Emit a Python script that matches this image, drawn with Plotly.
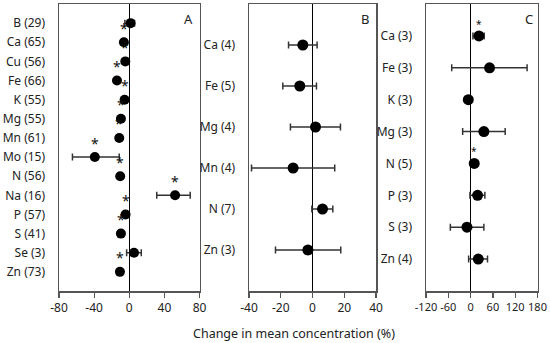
import plotly.graph_objects as go

# Panel A
a_cats = ["B (29)", "Ca (65)", "Cu (56)", "Fe (66)", "K (55)", "Mg (55)", "Mn (61)",
          "Mo (15)", "N (56)", "Na (16)", "P (57)", "S (41)", "Se (3)", "Zn (73)"]
a_vals = [1.5, -6.1, -4.5, -14.0, -5.3, -9.5, -11.4, -39.2, -10.3, 52.2, -4.2, -9.5, 5.4, -10.6]
a_lo = [-5.0, -8.0, -6.5, -16.0, -7.3, -11.5, -13.4, -64.7, -12.3, 31.3, -6.2, -11.5, -3.0, -12.6]
a_hi = [6.0, -4.1, -2.5, -12.0, -3.3, -7.5, -9.4, -11.4, -8.3, 69.4, -2.2, -7.5, 13.7, -8.6]
a_sig = [False, True, True, True, True, True, True, True, True, True, True, True, False, True]

# Panel B
b_cats = ["Ca (4)", "Fe (5)", "Mg (4)", "Mn (4)", "N (7)", "Zn (3)"]
b_vals = [-6.1, -8.0, 1.9, -12.2, 6.3, -2.9]
b_lo = [-15.1, -18.7, -13.9, -38.4, -0.4, -23.3]
b_hi = [2.9, 2.5, 17.6, 14.0, 12.8, 17.8]

# Panel C
c_cats = ["Ca (3)", "Fe (3)", "K (3)", "Mg (3)", "N (5)", "P (3)", "S (3)", "Zn (4)"]
c_vals = [22.4, 51.0, -6.2, 35.7, 9.8, 18.8, -9.8, 20.6]
c_lo = [6.3, -50.8, -10.0, -21.4, 5.0, -1.8, -54.5, -5.3]
c_hi = [36.6, 152.0, -2.0, 93.0, 14.0, 38.4, 35.7, 45.5]
c_sig = [True, False, False, False, True, False, False, False]

panel_labels = ["A", "B", "C"]
x_ranges = [[-80, 80], [-40, 40], [-120, 180]]
x_ticks = [[-80, -40, 0, 40, 80], [-40, -20, 0, 20, 40], [-120, -60, 0, 60, 120, 180]]
x_title = "Change in mean concentration (%)"

W, H = 550, 343
FONT = "Noto Sans"
BOX = "#555555"

fig = go.Figure()

panels = [
    (a_cats, a_vals, a_lo, a_hi, a_sig, 10, 14, 12, 14),
    (b_cats, b_vals, b_lo, b_hi, [False] * len(b_cats), 11, 14, 12, 12),
    (c_cats, c_vals, c_lo, c_hi, c_sig, 11, 10, 11, 12),
]
x_px = [(59, 199.5), (249, 376), (426, 537.5)]
y_top, y_bot = 4, 291

for i, (cats, vals, lo, hi, sig, msize, asz, tsz, ysh) in enumerate(panels):
    n = len(cats)
    ys = list(range(n))
    xa = "x" if i == 0 else f"x{i+1}"
    ya = "y" if i == 0 else f"y{i+1}"
    fig.add_trace(go.Scatter(
        x=vals, y=ys, mode="markers", xaxis=xa, yaxis=ya,
        marker=dict(color="black", size=msize),
        error_x=dict(type="data", symmetric=False,
                     array=[h - v for h, v in zip(hi, vals)],
                     arrayminus=[v - l for v, l in zip(vals, lo)],
                     color="#333333", thickness=1.5, width=3.5),
        showlegend=False, hoverinfo="skip"))
    sx = [v for v, s in zip(vals, sig) if s]
    sy = [y for y, s in zip(ys, sig) if s]
    for xv, yv in zip(sx, sy):
        fig.add_annotation(x=xv, y=yv, xref=xa, yref=ya, text="*", showarrow=False,
                           font=dict(family=FONT, size=asz, color="#111111"),
                           xanchor="center", yanchor="middle", yshift=ysh)

    x0, x1 = x_px[i]
    axis_x = dict(domain=[x0 / W, x1 / W], range=x_ranges[i], tickvals=x_ticks[i],
                  ticktext=[str(t) for t in x_ticks[i]], tickangle=0,
                  showline=True, linecolor=BOX, linewidth=1.5, mirror=True,
                  ticks="outside", ticklen=5, tickcolor=BOX, tickwidth=1.2,
                  showgrid=False, zeroline=True, zerolinecolor="black", zerolinewidth=1.5,
                  tickfont=dict(family=FONT, size=tsz, color="#222222"),
                  anchor=ya, fixedrange=True, automargin=False)
    axis_y = dict(domain=[1 - y_bot / H, 1 - y_top / H], range=[n, -1],
                  tickvals=ys, ticktext=cats, showline=True, linecolor=BOX, linewidth=1.5,
                  mirror=True, ticks="", showgrid=False, zeroline=False,
                  tickfont=dict(family=FONT, size=12, color="#222222"),
                  ticklabelstandoff=10, anchor=xa, fixedrange=True, automargin=False)
    if i == 0:
        fig.update_layout(xaxis=axis_x, yaxis=axis_y)
    else:
        fig.update_layout(**{f"xaxis{i+1}": axis_x, f"yaxis{i+1}": axis_y})

# panel letters
letter_px = [(188.5, 19), (365, 19), (528.5, 18.5)]
for lab, (px, py) in zip(panel_labels, letter_px):
    fig.add_annotation(x=px / W, y=1 - py / H, xref="paper", yref="paper", text=lab,
                       showarrow=False, font=dict(family=FONT, size=13, color="#222222"),
                       xanchor="center", yanchor="middle")

fig.add_annotation(x=293.5 / W, y=1 - 333 / H, xref="paper", yref="paper", text=x_title,
                   showarrow=False, font=dict(family=FONT, size=12.5, color="#222222"),
                   xanchor="center", yanchor="middle")

fig.update_layout(width=W, height=H, margin=dict(l=0, r=0, t=0, b=0, autoexpand=False),
                  paper_bgcolor="white", plot_bgcolor="white")

fig.write_html("out.html", config={"displayModeBar": False, "staticPlot": True},
               post_script="document.body.style.margin='0';document.body.style.overflow='hidden';")
